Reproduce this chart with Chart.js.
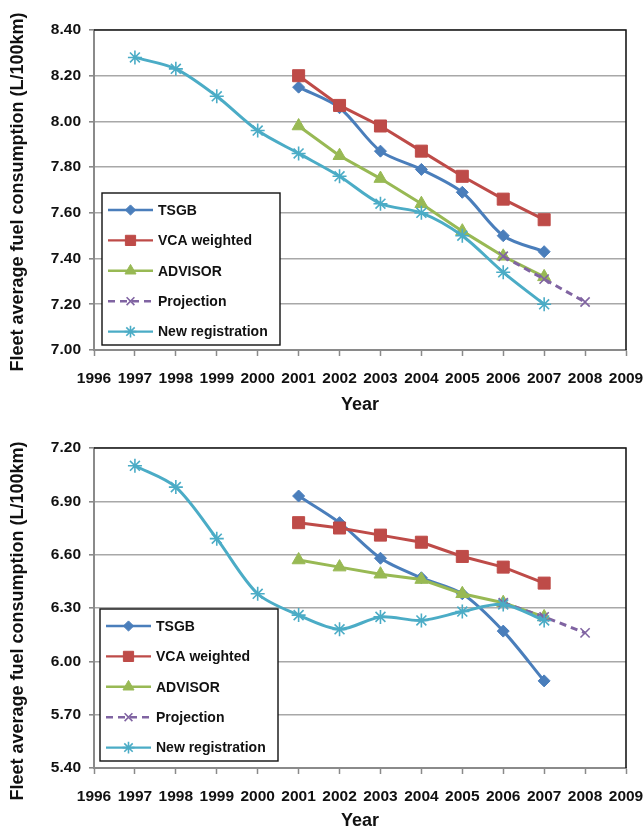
<!DOCTYPE html>
<html>
<head>
<meta charset="utf-8">
<title>Fleet average fuel consumption</title>
<script src="https://cdn.jsdelivr.net/npm/chart.js@4.4.1/dist/chart.umd.min.js"></script>
<style>
  html, body { margin: 0; padding: 0; background: #ffffff; }
  .panel { position: relative; width: 644px; height: 416px; }
  canvas { display: block; }
</style>
</head>
<body>
<div class="panel"><canvas id="panelA" width="644" height="416"></canvas></div>
<div class="panel"><canvas id="panelB" width="644" height="416"></canvas></div>
<script>
// ---- series definitions ----
const seriesNames  = ['TSGB', 'VCA weighted', 'ADVISOR', 'Projection', 'New registration'];
const seriesColors = ['#4a7ebb', '#be4b48', '#98b954', '#8064a2', '#4bacc6'];

const surveyYears       = [2001, 2002, 2003, 2004, 2005, 2006, 2007];
const projectionYears   = [2006, 2007, 2008];
const registrationYears = [1997, 1998, 1999, 2000, 2001, 2002, 2003, 2004, 2005, 2006, 2007];
const yearAxis          = [1996, 2009];
const yTitle            = 'Fleet average fuel consumption (L/100km)';
const xTitle            = 'Year';

// ---- upper panel ----
const upperTSGB         = [8.15, 8.06, 7.87, 7.79, 7.69, 7.50, 7.43];
const upperVCA          = [8.20, 8.07, 7.98, 7.87, 7.76, 7.66, 7.57];
const upperADVISOR      = [7.98, 7.85, 7.75, 7.64, 7.52, 7.41, 7.32];
const upperProjection   = [7.41, 7.31, 7.21];
const upperRegistration = [8.28, 8.23, 8.11, 7.96, 7.86, 7.76, 7.64, 7.60, 7.50, 7.34, 7.20];
const upperYTicks       = [7.00, 7.20, 7.40, 7.60, 7.80, 8.00, 8.20, 8.40];

// ---- lower panel ----
const lowerTSGB         = [6.93, 6.78, 6.58, 6.47, 6.38, 6.17, 5.89];
const lowerVCA          = [6.78, 6.75, 6.71, 6.67, 6.59, 6.53, 6.44];
const lowerADVISOR      = [6.57, 6.53, 6.49, 6.46, 6.38, 6.33, 6.25];
const lowerProjection   = [6.33, 6.25, 6.16];
const lowerRegistration = [7.10, 6.98, 6.69, 6.38, 6.26, 6.18, 6.25, 6.23, 6.28, 6.32, 6.23];
const lowerYTicks       = [5.40, 5.70, 6.00, 6.30, 6.60, 6.90, 7.20];

const FONT = "'Liberation Sans', Arial, Helvetica, sans-serif";
Chart.defaults.font.family = FONT;
Chart.defaults.color = '#111111';

function pairs(xs, ys) {
  return xs.map((x, i) => ({ x: x, y: ys[i] }));
}

// marker and line style per series
const seriesStyle = [
  { pointStyle: 'rectRot',  radius: 6,   tension: 0.3, dash: [] },
  { pointStyle: 'rect',     radius: 8.5, tension: 0,   dash: [] },
  { pointStyle: 'triangle', radius: 7.5, tension: 0,   dash: [] },
  { pointStyle: 'crossRot', radius: 6.5, tension: 0,   dash: [7, 5] },
  { pointStyle: 'star',     radius: 7,   tension: 0.3, dash: [] }
];

// plot frame: dark top and right edges
const frame = {
  id: 'frame',
  beforeDatasetsDraw(chart) {
    const a = chart.chartArea, ctx = chart.ctx;
    ctx.save();
    ctx.strokeStyle = '#1a1a1a';
    ctx.lineWidth = 1.6;
    ctx.beginPath();
    ctx.moveTo(a.left, a.top);
    ctx.lineTo(a.right, a.top);
    ctx.lineTo(a.right, a.bottom);
    ctx.stroke();
    ctx.restore();
  }
};

// rotated value-axis title
const sideTitle = {
  id: 'sideTitle',
  afterDraw(chart, args, opts) {
    const ctx = chart.ctx;
    ctx.save();
    ctx.translate(opts.x, opts.cy);
    ctx.rotate(-Math.PI / 2);
    ctx.fillStyle = '#111111';
    ctx.font = 'bold 18px ' + FONT;
    ctx.textAlign = 'center';
    ctx.textBaseline = 'alphabetic';
    ctx.fillText(opts.text, 0, 0);
    ctx.restore();
  }
};

// boxed legend placed inside the plot area
const boxLegend = {
  id: 'boxLegend',
  afterDatasetsDraw(chart, args, opts) {
    const ctx = chart.ctx;
    const bx = opts.x, by = opts.y, bw = opts.w, bh = opts.h;
    ctx.save();
    ctx.fillStyle = '#ffffff';
    ctx.fillRect(bx, by, bw, bh);
    ctx.strokeStyle = '#111111';
    ctx.lineWidth = 1.4;
    ctx.strokeRect(bx, by, bw, bh);
    chart.data.datasets.forEach((ds, i) => {
      const cy = by + opts.first + i * opts.gap;
      const x0 = bx + 6, x1 = bx + 51, cx = (x0 + x1) / 2;
      ctx.save();
      ctx.strokeStyle = ds.borderColor;
      ctx.lineWidth = 2.4;
      ctx.setLineDash(ds.borderDash || []);
      ctx.beginPath();
      ctx.moveTo(x0, cy);
      ctx.lineTo(x1, cy);
      ctx.stroke();
      ctx.setLineDash([]);
      ctx.fillStyle = ds.pointBackgroundColor;
      ctx.strokeStyle = ds.pointBorderColor;
      ctx.lineWidth = ds.pointBorderWidth;
      Chart.helpers.drawPoint(ctx, {
        pointStyle: ds.pointStyle,
        radius: ds.pointRadius * 0.85,
        borderWidth: ds.pointBorderWidth,
        rotation: 0
      }, cx, cy);
      ctx.restore();
      ctx.fillStyle = '#111111';
      ctx.font = 'bold 14px ' + FONT;
      ctx.textBaseline = 'middle';
      ctx.textAlign = 'left';
      ctx.fillText(ds.label, bx + 56, cy + 1);
    });
    ctx.restore();
  }
};

function buildChart(canvasId, values, yTicks, pad, legendBox, titleCenter) {
  const xs = [surveyYears, surveyYears, surveyYears, projectionYears, registrationYears];
  const datasets = values.map((vals, i) => {
    const st = seriesStyle[i];
    return {
      label: seriesNames[i],
      data: pairs(xs[i], vals),
      borderColor: seriesColors[i],
      backgroundColor: seriesColors[i],
      pointBackgroundColor: seriesColors[i],
      pointBorderColor: seriesColors[i],
      pointBorderWidth: (st.pointStyle === 'star' || st.pointStyle === 'crossRot') ? 1.6 : 1,
      pointStyle: st.pointStyle,
      pointRadius: st.radius,
      borderWidth: 3,
      borderDash: st.dash,
      tension: st.tension,
      fill: false,
      order: values.length - i
    };
  });

  const yStep = +(yTicks[1] - yTicks[0]).toFixed(2);

  return new Chart(document.getElementById(canvasId), {
    type: 'line',
    data: { datasets: datasets },
    options: {
      responsive: false,
      animation: false,
      events: [],
      layout: { padding: { top: pad.top, right: 18, bottom: 0, left: 0 } },
      plugins: {
        legend: { display: false },
        tooltip: { enabled: false },
        boxLegend: legendBox,
        sideTitle: { text: yTitle, x: 23, cy: titleCenter }
      },
      scales: {
        x: {
          type: 'linear',
          min: yearAxis[0],
          max: yearAxis[1],
          afterFit(scale) {
            scale.height = 416 - pad.bottom;
            scale.paddingLeft = 0;
            scale.paddingRight = 0;
          },
          afterBuildTicks(scale) {
            const t = [];
            for (let y = yearAxis[0]; y <= yearAxis[1]; y++) t.push({ value: y });
            scale.ticks = t;
          },
          ticks: {
            autoSkip: false,
            maxRotation: 0,
            padding: 13,
            color: '#111111',
            font: { size: 15.5, weight: 'bold' },
            callback: v => String(v)
          },
          grid: {
            drawOnChartArea: false,
            drawTicks: true,
            tickLength: 6,
            tickColor: '#8a8a8a',
            tickWidth: 1.5
          },
          border: { color: '#8a8a8a', width: 2 },
          title: {
            display: true,
            text: xTitle,
            color: '#111111',
            font: { size: 18, weight: 'bold' },
            padding: { top: 0, bottom: 0 }
          }
        },
        y: {
          min: yTicks[0],
          max: yTicks[yTicks.length - 1],
          afterFit(scale) {
            scale.width = 94;
            scale.paddingTop = 0;
            scale.paddingBottom = 0;
          },
          ticks: {
            stepSize: yStep,
            padding: 8,
            color: '#111111',
            font: { size: 15.5, weight: 'bold' },
            callback: v => Number(v).toFixed(2)
          },
          grid: {
            color: '#a8a8a8',
            lineWidth: 1.6,
            drawTicks: true,
            tickLength: 5,
            tickColor: '#8a8a8a'
          },
          border: { color: '#8a8a8a', width: 2 },
          title: { display: false }
        }
      }
    },
    plugins: [frame, boxLegend, sideTitle]
  });
}

buildChart('panelA',
  [upperTSGB, upperVCA, upperADVISOR, upperProjection, upperRegistration],
  upperYTicks,
  { top: 30, bottom: 350 },
  { x: 102, y: 193, w: 178, h: 152, first: 17, gap: 30.4 },
  192);

buildChart('panelB',
  [lowerTSGB, lowerVCA, lowerADVISOR, lowerProjection, lowerRegistration],
  lowerYTicks,
  { top: 32, bottom: 352 },
  { x: 100, y: 193, w: 178, h: 152, first: 17, gap: 30.4 },
  205);
</script>
</body>
</html>
